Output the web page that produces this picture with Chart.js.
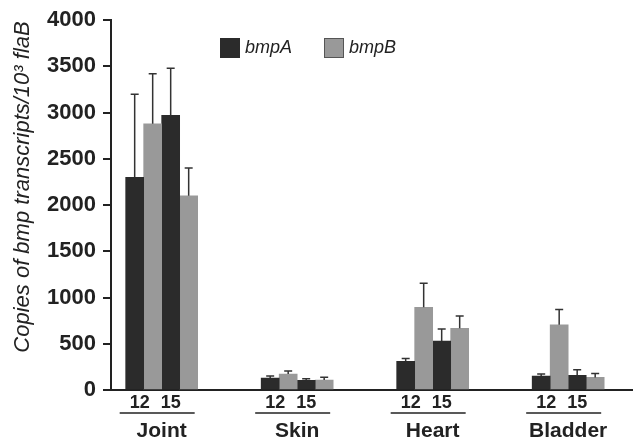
<!DOCTYPE html>
<html>
<head>
<meta charset="utf-8">
<script src="https://cdn.jsdelivr.net/npm/chart.js@4"></script>
<style>
  body { margin: 0; background: #fff; }
</style>
</head>
<body>
<canvas id="chart" width="637" height="442"></canvas>
<script>
var categories = ['Joint', 'Skin', 'Heart', 'Bladder'];
var timepoints = ['12', '15'];
var seriesNames = ['bmpA', 'bmpB'];

// mean values, day 12 and day 15
var bmpA12 = [2300, 130, 310, 150];
var bmpB12 = [2880, 172, 895, 705];
var bmpA15 = [2970, 105, 530, 160];
var bmpB15 = [2100, 108, 667, 136];

// top of each error bar
var bmpA12Upper = [3200, 152, 340, 172];
var bmpB12Upper = [3420, 205, 1155, 870];
var bmpA15Upper = [3480, 122, 660, 220];
var bmpB15Upper = [2400, 138, 800, 178];

var yTicks = [0, 500, 1000, 1500, 2000, 2500, 3000, 3500, 4000];

var darkColor = '#2b2b2b';
var greyColor = '#999999';
var inkColor = '#222222';

function points(values) {
    return values.map(function(v, i) { return {x: i, y: v}; });
}

var extras = {
    id: 'extras',
    afterDatasetsDraw: function(chart) {
        var ctx = chart.ctx;
        var y = chart.scales.y;
        ctx.save();
        ctx.strokeStyle = '#333';
        ctx.lineWidth = 1.5;
        chart.data.datasets.forEach(function(ds, d) {
            var meta = chart.getDatasetMeta(d);
            meta.data.forEach(function(bar, i) {
                var top = y.getPixelForValue(ds.upper[i]);
                ctx.beginPath();
                ctx.moveTo(bar.x, bar.y);
                ctx.lineTo(bar.x, top);
                ctx.moveTo(bar.x - 4, top);
                ctx.lineTo(bar.x + 4, top);
                ctx.stroke();
            });
        });
        ctx.restore();
    },
    afterDraw: function(chart) {
        var ctx = chart.ctx;
        var x = chart.scales.x;
        ctx.save();
        ctx.fillStyle = inkColor;
        ctx.strokeStyle = inkColor;

        // 12 / 15 under each group, with a rule below
        ctx.font = 'bold 18px "Liberation Sans", Arial, sans-serif';
        ctx.textAlign = 'center';
        ctx.textBaseline = 'middle';
        categories.forEach(function(c, i) {
            var cx = x.getPixelForValue(i);
            ctx.fillText(timepoints[0], cx - 22, 403);
            ctx.fillText(timepoints[1], cx + 9, 403);
            ctx.lineWidth = 1.5;
            ctx.beginPath();
            ctx.moveTo(cx - 42, 413);
            ctx.lineTo(cx + 33, 413);
            ctx.stroke();
        });

        // legend
        ctx.font = 'italic 18px "Liberation Sans", Arial, sans-serif';
        ctx.textAlign = 'left';
        ctx.fillStyle = darkColor;
        ctx.fillRect(220, 38, 20, 20);
        ctx.fillStyle = greyColor;
        ctx.fillRect(324, 38, 20, 20);
        ctx.strokeStyle = '#555';
        ctx.lineWidth = 1;
        ctx.strokeRect(324.5, 38.5, 19, 19);
        ctx.fillStyle = inkColor;
        ctx.fillText(seriesNames[0], 245, 48);
        ctx.fillText(seriesNames[1], 349, 48);

        // y axis title
        ctx.translate(23, 187);
        ctx.rotate(-Math.PI / 2);
        ctx.textAlign = 'center';
        ctx.font = 'italic 22px "Liberation Sans", Arial, sans-serif';
        ctx.fillText('Copies of bmp transcripts/10\u00B3 flaB', 0, 0);
        ctx.restore();
    }
};

var ctx = document.getElementById('chart');
new Chart(ctx, {
    type: 'bar',
    data: {
        datasets: [
            { label: 'bmpA 12', data: points(bmpA12), upper: bmpA12Upper, backgroundColor: darkColor },
            { label: 'bmpB 12', data: points(bmpB12), upper: bmpB12Upper, backgroundColor: greyColor },
            { label: 'bmpA 15', data: points(bmpA15), upper: bmpA15Upper, backgroundColor: darkColor },
            { label: 'bmpB 15', data: points(bmpB15), upper: bmpB15Upper, backgroundColor: greyColor }
        ]
    },
    options: {
        responsive: false,
        animation: false,
        barThickness: 18,
        layout: { padding: { top: 16, right: 5, left: 0, bottom: 0 } },
        plugins: {
            legend: { display: false },
            tooltip: { enabled: false }
        },
        scales: {
            x: {
                type: 'linear',
                offset: false,
                min: -0.374,
                max: 3.471,
                afterFit: function(s) { s.height = 52; },
                afterBuildTicks: function(s) {
                    s.ticks = categories.map(function(c, i) { return {value: i}; });
                },
                grid: { display: false, offset: false },
                border: { display: true, color: inkColor, width: 2 },
                ticks: {
                    padding: 21,
                    color: inkColor,
                    font: { family: '"Liberation Sans", Arial, sans-serif', size: 21, weight: 'bold' },
                    callback: function(v) { return categories[v]; }
                }
            },
            y: {
                min: 0,
                max: 4000,
                afterFit: function(s) { s.width = 111; },
                afterBuildTicks: function(s) {
                    s.ticks = yTicks.map(function(v) { return {value: v}; });
                },
                grid: { display: true, drawOnChartArea: false, drawTicks: true, tickLength: 8, color: inkColor, lineWidth: 2 },
                border: { display: true, color: inkColor, width: 2 },
                ticks: {
                    padding: 7,
                    color: inkColor,
                    font: { family: '"Liberation Sans", Arial, sans-serif', size: 22, weight: 'bold' },
                    callback: function(v) { return String(v); }
                }
            }
        }
    },
    plugins: [extras]
});
</script>
</body>
</html>
